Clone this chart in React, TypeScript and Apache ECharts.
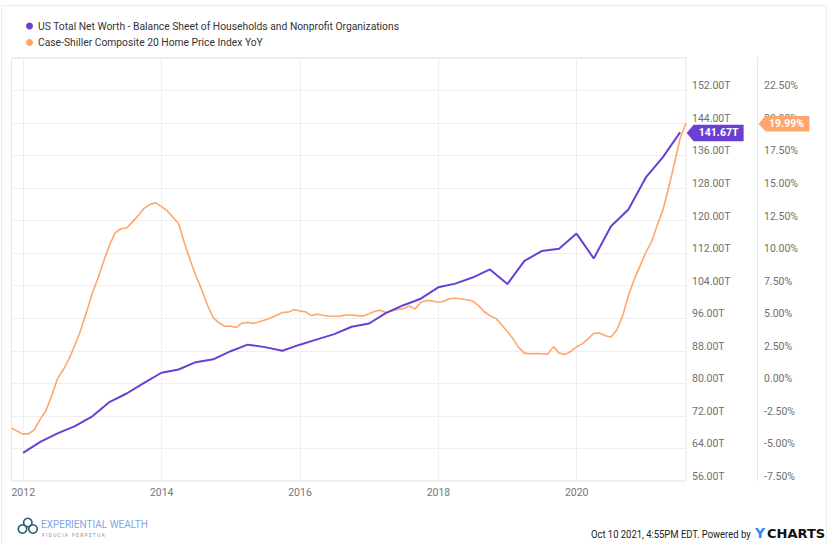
import React, { useEffect, useRef } from 'react';
import * as echarts from 'echarts';

const NET_WORTH_NAME = 'US Total Net Worth - Balance Sheet of Households and Nonprofit Organizations';
const HPI_NAME = 'Case-Shiller Composite 20 Home Price Index YoY';

// Quarterly net worth (trillions USD), quarter-end dates
const netWorthDates = [
  '2011-12-31',
  '2012-03-31', '2012-06-30', '2012-09-30', '2012-12-31',
  '2013-03-31', '2013-06-30', '2013-09-30', '2013-12-31',
  '2014-03-31', '2014-06-30', '2014-09-30', '2014-12-31',
  '2015-03-31', '2015-06-30', '2015-09-30', '2015-12-31',
  '2016-03-31', '2016-06-30', '2016-09-30', '2016-12-31',
  '2017-03-31', '2017-06-30', '2017-09-30', '2017-12-31',
  '2018-03-31', '2018-06-30', '2018-09-30', '2018-12-31',
  '2019-03-31', '2019-06-30', '2019-09-30', '2019-12-31',
  '2020-03-31', '2020-06-30', '2020-09-30', '2020-12-31',
  '2021-03-31', '2021-06-30',
];
const netWorthValues = [
  62.9,
  65.6, 67.7, 69.5, 71.9,
  75.4, 77.5, 80.1, 82.6,
  83.4, 85.2, 85.9, 87.9,
  89.5, 88.9, 88.0, 89.5,
  90.8, 92.1, 93.9, 94.7,
  97.3, 99.2, 100.8, 103.6,
  104.5, 106.0, 108.0, 104.4,
  110.1, 112.5, 113.1, 116.8,
  110.7, 118.6, 122.7, 130.6,
  135.6, 141.67,
];

// Monthly Case-Shiller 20-city YoY (%), month-end dates from Oct 2011
const hpiStartYear = 2011;
const hpiStartMonth = 10;
const hpiValues = [
  -3.45, -3.66, -3.9,
  -3.86, -3.56, -2.75, -2.09, -0.91, 0.36, 1.06, 1.92, 2.94, 4.12, 5.47, 6.94,
  8.13, 9.35, 10.6, 11.55, 11.87, 11.93, 12.4, 12.9, 13.44, 13.74, 13.86, 13.57,
  13.24, 12.78, 12.27, 10.84, 9.47, 8.28, 7.2, 6.0, 5.05, 4.64, 4.38, 4.39,
  4.3, 4.62, 4.68, 4.6, 4.73, 4.87, 5.04, 5.23, 5.44, 5.47, 5.66, 5.55,
  5.49, 5.2, 5.3, 5.23, 5.17, 5.15, 5.16, 5.25, 5.25, 5.2, 5.17, 5.35,
  5.54, 5.61, 5.42, 5.56, 5.69, 5.74, 5.94, 5.72, 6.22, 6.36, 6.33, 6.23,
  6.3, 6.5, 6.53, 6.48, 6.42, 6.33, 5.99, 5.5, 5.2, 4.99, 4.5, 3.98,
  3.4, 2.76, 2.32, 2.27, 2.29, 2.27, 2.24, 2.82, 2.32, 2.21, 2.45, 2.8,
  3.05, 3.4, 3.85, 3.87, 3.65, 3.56, 4.1, 5.2, 6.75, 8.0, 9.0, 10.05,
  10.9, 12.1, 13.3, 15.0, 16.9, 18.8, 19.99,
];

// X tick years (labelled, with vertical grid lines)
const xTickYears = [2012, 2014, 2016, 2018, 2020];

// Axis ranges
const leftAxisRange = { min: 56, max: 160, step: 8 };
const rightAxisRange = { min: -7.5, max: 25, step: 2.5 };

const footerText = 'Oct 10 2021, 4:55PM EDT. Powered by';
const logoTitle = 'EXPERIENTIAL WEALTH';
const logoSubtitle = 'F I D U C I A   P E R P E T U A';

const PURPLE = '#6a3fd2';
const ORANGE = '#ffa66c';

function pad(n: number) {
  return n < 10 ? '0' + n : '' + n;
}
function monthEnd(year: number, month: number) {
  const d = new Date(Date.UTC(year, month, 0));
  return `${d.getUTCFullYear()}-${pad(d.getUTCMonth() + 1)}-${pad(d.getUTCDate())}`;
}
const hpiDates = hpiValues.map((_, i) => {
  const m0 = hpiStartMonth - 1 + i;
  const y = hpiStartYear + Math.floor(m0 / 12);
  const m = (m0 % 12) + 1;
  return monthEnd(y, m);
});

export default function App() {
  const ref = useRef<HTMLDivElement>(null);
  useEffect(() => {
    if (!ref.current) return;
    const chart = echarts.init(ref.current, undefined, { renderer: 'svg' });
    const font = 'Roboto';
    const nwLast = netWorthValues.length - 1;
    const hpiLast = hpiValues.length - 1;
    const option: any = {
      animation: false,
      backgroundColor: '#ffffff',
      textStyle: { fontFamily: font },
      legend: {
        orient: 'vertical',
        left: 21,
        top: 16,
        itemWidth: 7,
        itemHeight: 7,
        itemGap: 6.5,
        icon: 'circle',
        textStyle: { fontFamily: font, fontSize: 10.3, color: '#333' },
        data: [NET_WORTH_NAME, HPI_NAME],
      },
      grid: {
        left: 11.5,
        right: 143,
        top: 57.8,
        bottom: 63,
        show: true,
        borderColor: '#e6e6e6',
        borderWidth: 1,
      },
      xAxis: {
        type: 'time',
        min: hpiDates[0],
        max: hpiDates[hpiLast],
        axisLine: { show: false },
        axisTick: { show: false },
        splitLine: { show: false },
        axisLabel: { show: false },
      },
      yAxis: [
        {
          type: 'value',
          position: 'right',
          min: leftAxisRange.min,
          max: leftAxisRange.max,
          interval: leftAxisRange.step,
          axisLine: { show: false },
          axisTick: { show: false },
          splitLine: { show: true, lineStyle: { color: '#efefef', width: 1 } },
          axisLabel: {
            showMaxLabel: false,
            fontFamily: font,
            fontSize: 10.5,
            color: '#6f6f6f',
            margin: 6,
            align: 'left',
            verticalAlign: 'bottom',
            lineHeight: 9,
            formatter: (v: number) => v.toFixed(2) + 'T',
          },
        },
        {
          type: 'value',
          position: 'right',
          offset: 71,
          min: rightAxisRange.min,
          max: rightAxisRange.max,
          interval: rightAxisRange.step,
          axisLine: { show: true, lineStyle: { color: '#e6e6e6', width: 1 } },
          axisTick: { show: false },
          splitLine: { show: false },
          axisLabel: {
            showMaxLabel: false,
            fontFamily: font,
            fontSize: 10.5,
            color: '#6f6f6f',
            margin: 7,
            align: 'left',
            verticalAlign: 'bottom',
            lineHeight: 9,
            formatter: (v: number) => v.toFixed(2) + '%',
          },
        },
      ],
      series: [
        {
          name: NET_WORTH_NAME,
          type: 'line',
          yAxisIndex: 0,
          symbol: 'none',
          color: PURPLE,
          lineStyle: { width: 2, color: PURPLE },
          data: netWorthDates.map((d, i) => [d, netWorthValues[i]]),
          z: 3,
          markLine: {
            silent: true,
            symbol: ['none', 'none'],
            z: 1,
            lineStyle: { color: '#efefef', width: 1, type: 'solid' },
            label: {
              show: true,
              position: 'start',
              distance: 6,
              fontFamily: font,
              fontSize: 10.5,
              color: '#777',
              formatter: '{b}',
            },
            emphasis: { disabled: true },
            data: xTickYears.map((y) => ({ name: String(y), xAxis: `${y}-01-01` })),
          },
          markPoint: {
            symbol: 'path://M0,8 L7,0 L57,0 L57,16 L7,16 Z',
            symbolSize: [57, 16.5],
            symbolKeepAspect: false,
            symbolOffset: [35, 0.6],
            itemStyle: { color: PURPLE },
            label: {
              show: true,
              position: 'inside',
              color: '#fff',
              fontFamily: font,
              fontSize: 10.5,
              fontWeight: 'bold',
              offset: [3.5, 0],
              formatter: (p: any) => Number(p.value).toFixed(2) + 'T',
            },
            data: [{ coord: [netWorthDates[nwLast], netWorthValues[nwLast]], value: netWorthValues[nwLast] }],
            z: 10,
          },
        },
        {
          name: HPI_NAME,
          type: 'line',
          yAxisIndex: 1,
          symbol: 'none',
          color: ORANGE,
          lineStyle: { width: 1.6, color: ORANGE },
          data: hpiDates.map((d, i) => [d, hpiValues[i]]),
          z: 2,
          markPoint: {
            symbol: 'path://M0,8 L7,0 L51,0 L51,16 L7,16 Z',
            symbolSize: [51, 15.5],
            symbolKeepAspect: false,
            symbolOffset: [98, 0.6],
            itemStyle: { color: ORANGE },
            label: {
              show: true,
              position: 'inside',
              color: '#fff',
              fontFamily: font,
              fontSize: 10.5,
              fontWeight: 'bold',
              offset: [2.5, 0],
              formatter: (p: any) => Number(p.value).toFixed(2) + '%',
            },
            data: [{ coord: [hpiDates[hpiLast], hpiValues[hpiLast]], value: hpiValues[hpiLast] }],
            z: 10,
          },
        },
      ],
      graphic: [
        {
          type: 'rect',
          silent: true,
          z: -1,
          shape: { x: 1.5, y: 5.5, width: 825, height: 560 },
          style: { fill: 'none', stroke: '#ececec', lineWidth: 1 },
        },
        {
          type: 'text',
          x: 591,
          y: 534,
          scaleX: 0.9,
          style: {
            text: footerText,
            fontFamily: font,
            fontSize: 10.5,
            fill: '#222',
            verticalAlign: 'middle',
            align: 'left',
          },
        },
        {
          type: 'text',
          x: 755,
          y: 533,
          style: {
            text: 'Y',
            fontFamily: 'DejaVu Sans',
            fontSize: 14,
            fontWeight: 'bold',
            fill: '#1f8ff0',
            verticalAlign: 'middle',
            align: 'left',
          },
        },
        {
          type: 'text',
          x: 767,
          y: 534,
          scaleX: 1.04,
          style: {
            text: 'CHARTS',
            fontFamily: 'DejaVu Sans',
            fontSize: 12.5,
            fontWeight: 'bold',
            fill: '#111',
            verticalAlign: 'middle',
            align: 'left',
          },
        },
        {
          type: 'group',
          x: 0,
          y: 0,
          children: [
            { type: 'ring', shape: { cx: 22.5, cy: 529, r: 5, r0: 3.4 }, style: { fill: '#2f5f78' } },
            { type: 'ring', shape: { cx: 27.8, cy: 522.5, r: 5, r0: 3.4 }, style: { fill: '#2f5f78' } },
            { type: 'ring', shape: { cx: 33, cy: 529, r: 5, r0: 3.4 }, style: { fill: '#2f5f78' } },
          ],
        },
        {
          type: 'text',
          x: 41,
          y: 524,
          style: {
            text: logoTitle,
            fontFamily: 'Liberation Sans Narrow, Roboto',
            fontSize: 10,
            fill: '#7ea6e6',
            verticalAlign: 'middle',
            align: 'left',
          },
        },
        {
          type: 'text',
          x: 42,
          y: 534.5,
          style: {
            text: logoSubtitle,
            fontFamily: font,
            fontSize: 5,
            fill: '#8d9aaa',
            verticalAlign: 'middle',
            align: 'left',
          },
        },
      ],
    };
    chart.setOption(option);
    return () => chart.dispose();
  }, []);
  return (
    <div
      ref={ref}
      style={{ position: 'fixed', left: 0, top: 0, width: 829, height: 544 }}
    />
  );
}
